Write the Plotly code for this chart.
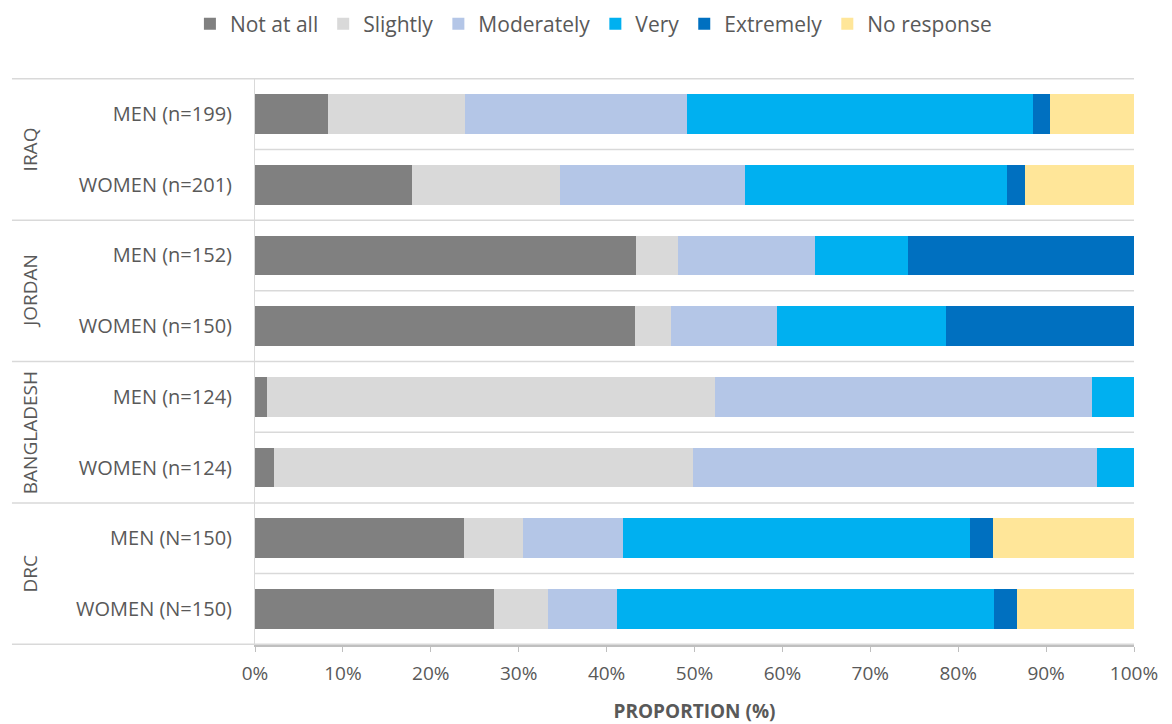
import plotly.graph_objects as go

TEXT = "#595959"
LINE = "#d9d9d9"
FONT = "Open Sans, Arial, sans-serif"

rows = ["MEN (n=199)", "WOMEN (n=201)", "MEN (n=152)", "WOMEN (n=150)",
        "MEN (n=124)", "WOMEN (n=124)", "MEN (N=150)", "WOMEN (N=150)"]
countries = ["IRAQ", "JORDAN", "BANGLADESH", "DRC"]

not_at_all = [8.3, 17.9, 43.3, 43.2, 1.4, 2.2, 23.8, 27.2]
slightly = [15.6, 16.8, 4.8, 4.1, 50.9, 47.6, 6.7, 6.1]
moderately = [25.2, 21.0, 15.6, 12.1, 42.9, 46.0, 11.4, 7.9]
very = [39.4, 29.9, 10.6, 19.2, 4.8, 4.2, 39.4, 42.9]
extremely = [1.9, 2.0, 25.7, 21.4, 0, 0, 2.7, 2.6]
no_response = [9.6, 12.4, 0, 0, 0, 0, 16.0, 13.3]

series = [
    ("Not at all", not_at_all, "#808080"),
    ("Slightly", slightly, "#d9d9d9"),
    ("Moderately", moderately, "#b4c6e7"),
    ("Very", very, "#00b0f0"),
    ("Extremely", extremely, "#0070c0"),
    ("No response", no_response, "#ffe699"),
]

fig = go.Figure()
for name, vals, color in series:
    fig.add_trace(go.Bar(
        x=vals, y=rows, name=name, orientation="h",
        marker={"color": color, "line": {"width": 0}},
        width=0.56,
    ))

# row separators: short ones inside a country, long ones between countries
for i in range(len(rows) + 1):
    pos = i - 0.5
    x0 = -0.2765 if i % 2 == 0 else 0
    fig.add_shape(type="line", xref="paper", yref="y", x0=x0, x1=1, y0=pos, y1=pos,
                  line={"color": LINE, "width": 1.5}, layer="below")

for k, c in enumerate(countries):
    fig.add_annotation(text=c, xref="paper", yref="y", x=-0.256, y=2 * k + 0.5,
                       xanchor="center", yanchor="middle",
                       textangle=-90, showarrow=False,
                       font={"size": 19, "color": TEXT, "family": FONT})

# page body adds 8px margin, so the figure is shrunk to fit the window
fig.update_layout(
    barmode="stack",
    width=1164, height=716,
    paper_bgcolor="white", plot_bgcolor="white",
    font={"family": FONT, "size": 20, "color": TEXT},
    margin={"l": 247, "r": 38, "t": 70, "b": 79, "autoexpand": False},
    legend={"orientation": "h", "x": 0.385, "xanchor": "center", "y": 1.095,
            "yanchor": "middle", "font": {"size": 21, "color": TEXT},
            "traceorder": "normal", "itemwidth": 30},
    xaxis={"range": [0, 100], "dtick": 10, "ticksuffix": "%", "showgrid": False,
           "zeroline": False, "showline": True, "linecolor": "#bfbfbf", "linewidth": 1.5,
           "ticks": "outside", "ticklen": 5, "tickcolor": "#bfbfbf",
           "ticklabelstandoff": 5,
           "tickfont": {"size": 19, "color": TEXT},
           "title": {"text": "<b>PROPORTION (%)</b>", "font": {"size": 19, "color": TEXT},
                     "standoff": 21}},
    yaxis={"categoryorder": "array", "categoryarray": rows, "autorange": "reversed",
           "showgrid": False, "zeroline": False, "showline": True, "linecolor": LINE,
           "ticks": "", "ticklabelstandoff": 18,
           "tickfont": {"size": 20, "color": TEXT}},
)

fig.write_html("out.html")
